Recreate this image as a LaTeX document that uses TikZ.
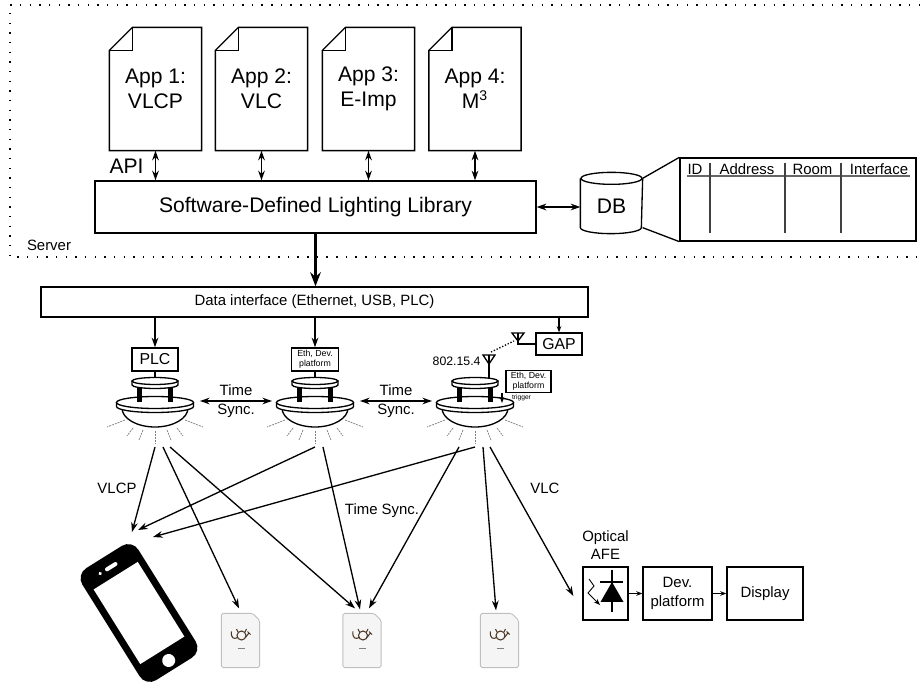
\documentclass[tikz,border=0pt]{standalone}
\usepackage{fontspec}
\setmainfont{Liberation Sans}
\usetikzlibrary{calc,positioning,arrows.meta}
\definecolor{logobrown}{HTML}{4A3522}

\begin{document}
\begin{tikzpicture}[
  x=0.02cm, y=-0.02cm,
  line width=0.75pt,
  >={Stealth[length=5.5pt,width=3.8pt]},
  big/.style={font=\fontsize{12}{14}\selectfont},
  small/.style={font=\fontsize{8.5}{10.5}\selectfont},
  mid/.style={font=\fontsize{9}{10}\selectfont},
  tiny/.style={font=\fontsize{5}{5.8}\selectfont},
  doc/.style={big, minimum width=1.82cm, minimum height=2.44cm, align=center},
  box/.style={draw, fill=white, align=center, inner sep=1pt},
  ray/.style={gray, line width=0.4pt, dash pattern=on 1.2pt off 0.5pt},
  tip/.style={-{Stealth[length=3.5pt,width=2.6pt]}},
  card/.style={minimum width=0.74cm, minimum height=1.06cm},
  cardedge/.style={fill=black!4, draw=black!25, line width=0.5pt, rounded corners=1pt},
  logo/.style={logobrown, line width=0.6pt},
  server/.style={line width=0.8pt, dash pattern=on 0.8pt off 4.7pt}
]
  \useasboundingbox (0,0) rectangle (920,685);

  % server frame (open to the right)
  \draw[server] (920,5) -- (10,5) -- (10,257) -- (920,257);
  \node[small] (server) at (49,245) {Server};

  % applications as dog-eared sheets
  \foreach \n/\x/\t in {1/155.5/{App 1:\\VLCP}, 2/261.5/{App 2:\\VLC},
                        3/368.5/{App 3:\\E-Imp}, 4/475/{App 4:\\M\textsuperscript{3}}} {
    \node[doc] (app\n) at (\x,89) {\t};
    \draw (app\n.south west) -- (app\n.south east) -- (app\n.north east)
      -- ($(app\n.north west)+(23,0)$) -- ($(app\n.north west)+(0,23)$) -- cycle;
    \draw ($(app\n.north west)+(23,0)$) |- ($(app\n.north west)+(0,23)$);
  }

  \node[box, big, minimum width=8.82cm, minimum height=1.04cm] (lib) at (315.5,207)
    {Software-Defined Lighting Library};
  \foreach \n in {1,...,4}
    \draw[<->] (app\n.south) -- (app\n.south |- lib.north);
  \node[big] (api) at (126.5,166) {API};

  % database + table
  \node[big, minimum width=1.22cm, minimum height=1.08cm] (db) at (611.5,206) {DB};
  \draw (db.north west) -- ($(db.south west)+(0,-6)$)
    arc[start angle=180, end angle=0, x radius=30.5, y radius=6] -- (db.north east);
  \draw (db.north) ellipse[x radius=30.5, y radius=6];
  \draw[<->] (lib.east) -- (lib.east -| db.west);

  \node[draw, minimum width=4.72cm, minimum height=1.66cm] (tbl) at (798,199.5) {};
  \draw (db.north east) -- (tbl.north west);
  \draw ($(db.south east)+(0,-6)$) -- (tbl.south west);
  \foreach \x/\t [count=\i] in {695/ID, 747/Address, 812.5/Room, 879/Interface}
    \node[small] (col\i) at (\x,169) {\t};
  \draw[black!60] (687,176) -- (910,176);
  \foreach \x in {710,785,841}
    \draw[black!75] (\x,163) -- (\x,233);

  % data interface
  \node[box, small, minimum width=10.94cm, minimum height=0.6cm] (dif) at (314.5,302)
    {Data interface (Ethernet, USB, PLC)};
  \draw[line width=1.7pt, -{Stealth[length=8pt,width=6pt]}] (lib.south) -- (lib.south |- dif.north);

  \node[box, mid, minimum width=0.92cm, minimum height=0.46cm] (plc) at (155,359.5) {PLC};
  \node[box, tiny, minimum width=0.94cm, minimum height=0.46cm] (eth2) at (315,359.5) {Eth, Dev.\\platform};
  \node[box, mid, minimum width=0.92cm, minimum height=0.44cm] (gap) at (559,344) {GAP};
  \node[box, tiny, minimum width=0.9cm, minimum height=0.42cm] (eth3) at (528.5,381.5) {Eth, Dev.\\platform};
  \draw[->] (plc.north |- dif.south) -- (plc);
  \draw[->] (eth2.north |- dif.south) -- (eth2);
  \draw[tip] (gap.north |- dif.south) -- (gap);

  % lamps
  \foreach \cx [count=\i] in {155,315,475} {
    \coordinate (lamp\i) at (\cx,405);
    \coordinate (disk\i) at (\cx,377.5);
    \foreach \ax/\ay/\bx/\by in {-30/420/-48/427, -22/428/-28/436, -12/430/-16/440, 0/431/0/443,
                                 12/430/16/440, 22/428/28/436, 30/420/48/427}
      \draw[ray] (\cx+\ax,\ay) -- (\cx+\bx,\by);
    \draw[fill=white] (\cx-33,408) arc[start angle=180, end angle=0, x radius=33, y radius=19];
    \draw[fill=white] (\cx-38.5,402.5) -- (\cx-38.5,406.5)
      arc[start angle=180, end angle=0, x radius=38.5, y radius=6] -- (\cx+38.5,402.5);
    \draw[fill=white] (\cx,402.5) ellipse[x radius=38.5, y radius=6];
    \draw[fill=white] (\cx-23,381) -- (\cx-23,385)
      arc[start angle=180, end angle=0, x radius=23, y radius=3.5] -- (\cx+23,381);
    \draw[fill=white] (\cx,381) ellipse[x radius=23, y radius=3.5];
    \draw[line width=2.6pt] (\cx-15.5,388) -- (\cx-15.5,402);
    \draw[line width=2.6pt] (\cx+15.5,388) -- (\cx+15.5,402);
  }
  \draw (plc) -- (disk1);
  \draw (eth2) -- (disk2);

  \draw[<->] ($(lamp1)+(45,-4)$) -- node[small, align=center] (ts1) {Time\\Sync.} ($(lamp2)+(-43,-4)$);
  \draw[<->] ($(lamp2)+(45,-4)$) -- node[small, align=center] (ts2) {Time\\Sync.} ($(lamp3)+(-43,-4)$);

  % 802.15.4 link to the gateway
  \coordinate (ant3) at (489,355);
  \coordinate (antg) at (518,333);
  \draw (ant3) -- ++(0,23);
  \draw ($(ant3)+(-6,0)$) -- ($(ant3)+(6,0)$) -- ($(ant3)+(0,9)$) -- cycle;
  \node[font=\fontsize{7}{8}\selectfont, anchor=east, inner sep=1pt] (zig) at (483,361) {802.15.4};
  \draw (antg) |- (gap.west);
  \draw ($(antg)+(-6,0)$) -- ($(antg)+(6,0)$) -- ($(antg)+(0,8)$) -- cycle;
  \draw[densely dotted] ($(ant3)+(2,-3)$) -- ($(antg)+(-4,8)$);

  \coordinate (trig) at (502,403);
  \draw[tip] (trig |- eth3.south) -- (trig);
  \node[font=\fontsize{3.8}{4}\selectfont, inner sep=0.5pt] (trign) at (521.5,398) {trigger};

  % receivers
  \coordinate (phone) at (139,613);
  \begin{scope}[shift={(phone)}, rotate=32]
    \fill[rounded corners=0.24cm] (-33,-66) rectangle (33,66);
    \fill[white] (-26,-44) rectangle (26,44);
    \fill[white, rounded corners=0.04cm] (-6,-56) rectangle (8,-52);
    \fill[white] (-12,-54) circle[radius=0.036cm];
    \fill[white] (0,56) circle[radius=0.13cm];
  \end{scope}

  \foreach \n/\x in {1/240.5, 2/362, 3/499.5} {
    \node[card] (card\n) at (\x,640.5) {};
    \draw[cardedge] (card\n.south west) -- (card\n.south east) -- ($(card\n.north east)+(0,7)$)
      -- ($(card\n.north east)+(-7,0)$) -- (card\n.north west) -- cycle;
    \begin{scope}[shift={(card\n)}, logo]
      \draw (1,-5) circle[radius=0.09cm];
      \draw (-2.5,-8.5) -- (-4,-11.5) (4.5,-8.5) -- (6,-11.5);
      \draw (-3,-3) .. controls (-6,-1) and (-10,-2) .. (-9,-9);
      \draw (5,-3) -- (8,-7) (7,-9) -- (10,-6);
      \draw[gray, line width=0.4pt] (-3,8) -- (4,8);
    \end{scope}
  }

  \node[box, minimum width=0.9cm, minimum height=1.06cm] (afe) at (605.5,593.5) {};
  \node[small, align=center, above=0pt of afe] (afel) {Optical\\AFE};
  \node[box, small, minimum width=1.38cm, minimum height=1.06cm] (dev) at (677.5,593.5) {Dev.\\platform};
  \node[box, small, minimum width=1.52cm, minimum height=1.06cm] (disp) at (765,593.5) {Display};
  \draw[tip] (afe) -- (dev);
  \draw[tip] (dev) -- (disp);
  % photodiode
  \draw ($(afe)+(6.5,-23.5)$) -- ($(afe)+(6.5,18.5)$);
  \draw[line width=1pt] ($(afe)+(-5.5,-11.5)$) -- ($(afe)+(17.5,-11.5)$);
  \fill ($(afe)+(6.5,-11.5)$) -- ($(afe)+(-5,8.5)$) -- ($(afe)+(18,8.5)$) -- cycle;
  \draw[tip, line width=0.5pt] ($(afe)+(-16.5,-14.5)$) -- ($(afe)+(-11.5,-7.5)$)
    -- ($(afe)+(-17.5,-0.5)$) -- ($(afe)+(-5.5,11.5)$);

  % light beams
  \draw[->] ($(lamp1)+(0,42)$) -- ($(phone)+(-7,-81)$);
  \draw[->] ($(lamp1)+(8,42)$) -- ($(card1.north)+(-1.5,-5)$);
  \draw[->] ($(lamp1)+(15,42)$) -- ($(card2.north)+(-7,-5)$);
  \draw[->] ($(lamp2)+(0,42)$) -- ($(phone)+(-1,-83)$);
  \draw[->] ($(lamp2)+(8,42)$) -- ($(card2.north)+(-2,-4)$);
  \draw[->] ($(lamp3)+(0,42)$) -- ($(phone)+(14,-76)$);
  \draw[->] ($(lamp3)+(-16,42)$) -- ($(card2.north)+(7,-5)$);
  \draw[->] ($(lamp3)+(8,42)$) -- ($(card3.north)+(-3.5,-3)$);
  \draw[->] ($(lamp3)+(15,42)$) -- ($(afe.west)+(-9,2.5)$);

  \node[small] (vlcp) at (117,488) {VLCP};
  \node[small] (tsync) at (382,511) {Time Sync.};
  \node[small] (vlc) at (545,488) {VLC};
\end{tikzpicture}
\end{document}
